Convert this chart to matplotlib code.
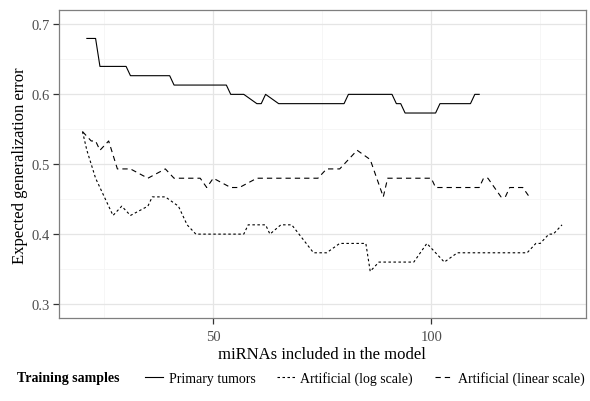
import matplotlib
matplotlib.use("Agg")
import matplotlib.pyplot as plt
from matplotlib.lines import Line2D
from matplotlib.ticker import MultipleLocator

plt.rcParams['font.family'] = ['Liberation Serif', 'DejaVu Serif']
plt.rcParams['lines.scale_dashes'] = False

# error estimates vs. number of miRNAs (vertices of each curve)
primary_x = [21, 23, 24, 30, 31, 40, 41, 53, 54, 57, 60, 61, 62, 65, 80, 81, 91, 92, 93, 94, 101, 102, 109, 110, 111]
primary_y = [0.68, 0.68, 0.64, 0.64, 0.6267, 0.6267, 0.6133, 0.6133, 0.6, 0.6, 0.5867, 0.5867, 0.6, 0.5867,
             0.5867, 0.6, 0.6, 0.5867, 0.5867, 0.5733, 0.5733, 0.5867, 0.5867, 0.6, 0.6]

log_x = [20, 21, 22, 23, 24, 25, 26, 27, 29, 31, 35, 36, 39, 42, 44, 46, 57, 58, 62, 63, 65.5, 68, 73, 76, 79,
         85, 86, 88, 96, 99, 101, 103, 106, 122, 124, 125, 127, 128, 130]
log_y = [0.5467, 0.52, 0.5, 0.48, 0.4667, 0.4533, 0.44, 0.4267, 0.44, 0.4267, 0.44, 0.4533, 0.4533, 0.44,
         0.4133, 0.4, 0.4, 0.4133, 0.4133, 0.4, 0.4133, 0.4133, 0.3733, 0.3733, 0.3867, 0.3867, 0.3467, 0.36,
         0.36, 0.3867, 0.3733, 0.36, 0.3733, 0.3733, 0.3867, 0.3867, 0.4, 0.4, 0.4133]

lin_x = [20, 22, 23, 24, 26, 28, 31, 35, 39, 41, 47, 48.5, 50, 54, 56, 60, 74, 76, 79, 83, 86, 89, 90, 100,
         101, 111, 112, 113, 116, 117, 118, 121, 122.5]
lin_y = [0.5467, 0.5333, 0.5333, 0.52, 0.5333, 0.4933, 0.4933, 0.48, 0.4933, 0.48, 0.48, 0.4667, 0.48,
         0.4667, 0.4667, 0.48, 0.48, 0.4933, 0.4933, 0.52, 0.5067, 0.4533, 0.48, 0.48, 0.4667, 0.4667, 0.48,
         0.48, 0.4533, 0.4533, 0.4667, 0.4667, 0.4533]

labels = ['Primary tumors', 'Artificial (log scale)', 'Artificial (linear scale)']
dash_styles = ['-', (0, (1.8, 1.8)), (0, (3.8, 2.9))]

fig = plt.figure(figsize=(5.9, 4.02), dpi=100)
ax = fig.add_axes([0.0992, 0.2065, 0.894, 0.7649])

ax.set_facecolor('white')
for s in ax.spines.values():
    s.set_color('#7f7f7f')
    s.set_linewidth(0.9)

ax.plot(primary_x, primary_y, color='black', lw=0.8, linestyle=dash_styles[0])
ax.plot(log_x, log_y, color='black', lw=0.8, linestyle=dash_styles[1])
ax.plot(lin_x, lin_y, color='black', lw=0.8, linestyle=dash_styles[2])

ax.set_xlim(14.5, 135.5)
ax.set_ylim(0.28, 0.72)
ax.xaxis.set_major_locator(MultipleLocator(50))
ax.xaxis.set_minor_locator(MultipleLocator(25))
ax.yaxis.set_major_locator(MultipleLocator(0.1))
ax.yaxis.set_minor_locator(MultipleLocator(0.05))
ax.set_yticklabels(['{:.1f}'.format(v) for v in ax.get_yticks()])

ax.grid(which='major', color='#e5e5e5', lw=0.9)
ax.grid(which='minor', color='#f5f5f5', lw=0.6)
ax.set_axisbelow(True)
ax.tick_params(which='major', length=4, width=0.9, color='#333333', labelcolor='#4d4d4d', labelsize=10.5)
ax.tick_params(axis='x', pad=5)
ax.tick_params(axis='y', pad=2)
ax.tick_params(which='minor', length=0)

ax.set_xlabel('miRNAs included in the model', fontsize=12, labelpad=2)
ax.set_ylabel('Expected generalization error', fontsize=12, labelpad=3)

# legend below the panel
fig.text(17 / 590, 1 - 379 / 402, 'Training samples', fontsize=10, fontweight='bold', va='center', ha='left')
handles = [Line2D([], [], color='black', lw=0.8, linestyle=ls) for ls in dash_styles]
fig.legend(handles, labels, loc='center left', bbox_to_anchor=(145 / 590, 1 - 379 / 402), ncol=3,
           frameon=False, fontsize=10, handlelength=1.3, handletextpad=0.4, columnspacing=1.55,
           borderpad=0, borderaxespad=0)

fig.savefig('out.png', dpi=100)
